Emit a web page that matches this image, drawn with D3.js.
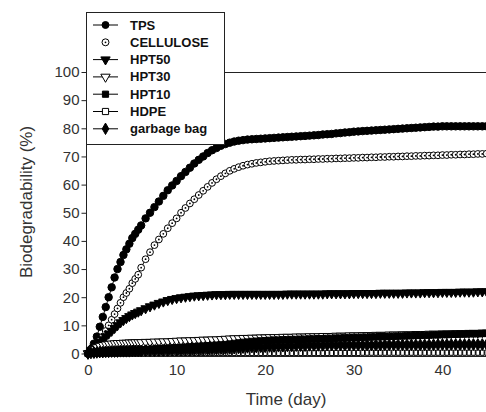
<!DOCTYPE html>
<html><head><meta charset="utf-8">
<script src="https://cdn.jsdelivr.net/npm/d3@7"></script>
<style>
html,body{margin:0;padding:0;background:#fff;}
svg{display:block;}
</style></head>
<body>
<svg id="chart" width="486" height="412"></svg>
<script>
// ---- data ----
const days = [0,0.33,0.67,1,1.33,1.67,2,2.33,2.67,3,3.33,3.67,4,4.33,4.67,5,5.33,5.67,
6,6.5,7,7.5,8,8.5,9,9.5,10,10.5,
11,11.5,12,12.5,13,13.5,14,14.5,15,15.5,
16,16.5,17,17.5,18,18.5,19,19.5,20,20.5,
21,21.5,22,22.5,23,23.5,24,24.5,25,25.5,
26,26.5,27,27.5,28,28.5,29,29.5,30,30.5,
31,31.5,32,32.5,33,33.5,34,34.5,35,35.5,
36,36.5,37,37.5,38,38.5,39,39.5,40,40.5,
41,41.5,42,42.5,43,43.5,44,44.5,45];

const tps = [0,1.5,3.5,6,9.5,13,16.5,20,23.5,27,30,32.5,35,37,39,41,42.5,44,
45.5,48,50,52,54,56,58,59.7,61.3,63,
64.5,66,67.5,68.8,70,71.2,72.2,73,73.8,74.4,
74.9,75.3,75.6,75.8,76,76.1,76.2,76.3,76.4,76.5,
76.6,76.7,76.8,76.9,77,77.1,77.2,77.3,77.4,77.5,
77.6,77.8,77.9,78,78.2,78.3,78.5,78.6,78.8,78.9,
79,79.1,79.2,79.3,79.4,79.5,79.6,79.7,79.8,79.9,
80,80.1,80.2,80.3,80.4,80.5,80.6,80.6,80.7,80.7,
80.7,80.7,80.7,80.7,80.7,80.7,80.7,80.7,80.7];

const cellulose = [0,0.5,1.5,3,4.5,6,8,10,12,14,16,18,20,21.5,23,25,26.5,28,
30.5,33.5,36,38.5,40.5,42.5,44.5,46.3,48,50,
51.7,53.3,54.8,56.3,57.8,59.2,60.6,61.9,63,64,
64.9,65.6,66.2,66.7,67.1,67.4,67.7,67.9,68.1,68.3,
68.4,68.5,68.6,68.7,68.8,68.8,68.9,68.9,69,69,
69.1,69.1,69.2,69.2,69.3,69.3,69.4,69.4,69.5,69.5,
69.6,69.6,69.7,69.7,69.8,69.8,69.9,69.9,70,70,
70.1,70.1,70.2,70.2,70.3,70.3,70.4,70.4,70.5,70.5,
70.6,70.6,70.7,70.7,70.8,70.8,70.9,70.9,71];

const hpt50 = [0,1,2,3,4,5,6,7,8,9,10,11,11.8,12.5,13.2,13.8,14.3,14.8,
15.3,16,16.7,17.3,17.9,18.4,18.9,19.3,19.6,19.9,
20.1,20.3,20.5,20.6,20.7,20.8,20.9,21,21,21,
21.1,21.1,21.1,21.1,21.1,21.1,21.1,21.1,21.1,21.1,
21.1,21.1,21.1,21.2,21.2,21.2,21.2,21.2,21.2,21.2,
21.2,21.2,21.3,21.3,21.3,21.3,21.3,21.3,21.4,21.4,
21.4,21.4,21.4,21.4,21.5,21.5,21.5,21.5,21.5,21.5,
21.6,21.6,21.6,21.6,21.7,21.7,21.7,21.7,21.8,21.8,
21.8,21.8,21.9,21.9,21.9,21.9,22,22,22];

const hpt30 = [0,0.8,1.5,2.2,2.7,3,3.2,3.4,3.5,3.6,3.7,3.7,3.8,3.8,3.9,3.9,4,4,
4,4.1,4.1,4.2,4.2,4.3,4.3,4.4,4.5,4.6,
4.6,4.7,4.7,4.8,4.9,4.9,5,5,5.1,5.2,
5.3,5.4,5.4,5.5,5.5,5.6,5.6,5.7,5.7,5.8,
5.8,5.8,5.9,5.9,5.9,6,6,6,6.1,6.1,
6.1,6.2,6.2,6.2,6.3,6.3,6.3,6.4,6.4,6.4,
6.5,6.5,6.5,6.6,6.6,6.6,6.7,6.7,6.7,6.8,
6.8,6.8,6.9,6.9,6.9,7,7,7,7.1,7.1,
7.1,7.2,7.2,7.2,7.3,7.3,7.3,7.4,7.4];

const hpt10 = [0,0.3,0.5,0.6,0.7,0.8,0.9,0.9,1,1,1,1.1,1.1,1.1,1.2,1.2,1.2,1.2,
1.3,1.4,1.5,1.6,1.7,1.8,1.9,2,2.1,2.2,
2.3,2.4,2.5,2.6,2.7,2.8,2.9,3,3.1,3.2,
3.4,3.6,3.8,4,4.1,4.3,4.4,4.5,4.6,4.7,
4.8,4.8,4.9,4.9,5,5,5.1,5.1,5.2,5.2,
5.3,5.3,5.4,5.4,5.5,5.5,5.6,5.6,5.7,5.7,
5.8,5.8,5.9,5.9,6,6,6.1,6.1,6.2,6.2,
6.3,6.3,6.4,6.4,6.5,6.5,6.6,6.6,6.7,6.7,
6.8,6.8,6.9,6.9,7,7,7,7.1,7.1];

const hdpe = [0,0.1,0.1,0.2,0.2,0.2,0.2,0.2,0.2,0.2,0.2,0.2,0.2,0.2,0.2,0.2,0.2,0.2,
0.2,0.2,0.2,0.2,0.2,0.2,0.2,0.2,0.2,0.2,
0.2,0.2,0.2,0.2,0.2,0.2,0.2,0.2,0.2,0.2,
0.2,0.2,0.2,0.2,0.2,0.2,0.2,0.2,0.2,0.2,
0.2,0.2,0.2,0.2,0.2,0.2,0.2,0.2,0.2,0.2,
0.2,0.2,0.2,0.2,0.2,0.2,0.2,0.2,0.2,0.2,
0.3,0.3,0.3,0.3,0.3,0.3,0.3,0.3,0.3,0.3,
0.3,0.3,0.3,0.3,0.3,0.3,0.3,0.3,0.3,0.3,
0.3,0.3,0.3,0.3,0.3,0.3,0.3,0.3,0.3];

const garbageBag = [0,0.2,0.3,0.4,0.5,0.5,0.6,0.6,0.7,0.7,0.7,0.8,0.8,0.8,0.8,0.9,0.9,0.9,
0.9,1,1,1,1.1,1.1,1.1,1.2,1.2,1.2,
1.3,1.3,1.4,1.4,1.5,1.5,1.6,1.6,1.7,1.7,
1.8,1.9,2,2.1,2.2,2.3,2.3,2.4,2.4,2.5,
2.5,2.6,2.6,2.7,2.7,2.8,2.8,2.8,2.9,2.9,
2.9,2.9,3,3,3,3,3,3,3,3,
3,3,3,3,3,3.1,3.1,3.1,3.1,3.1,
3.1,3.1,3.1,3.1,3.1,3.1,3.1,3.2,3.2,3.2,
3.2,3.2,3.2,3.2,3.2,3.2,3.2,3.2,3.2];

const seriesNames = ["TPS","CELLULOSE","HPT50","HPT30","HPT10","HDPE","garbage bag"];
const seriesValues = [tps, cellulose, hpt50, hpt30, hpt10, hdpe, garbageBag];
const xTicks = [0,10,20,30,40];
const yTicks = [0,10,20,30,40,50,60,70,80,90,100];
const xTitle = "Time (day)";
const yTitle = "Biodegradability (%)";

// ---- styles ----
const markerStyle = {
  "TPS":        {type: d3.symbolCircle,   size: 44, fill: "#000", rot: 0,   sx: 1,   dot: false, legendLine: true},
  "CELLULOSE":  {type: d3.symbolCircle,   size: 36, fill: "#fff", rot: 0,   sx: 1,   dot: true,  legendLine: false},
  "HPT50":      {type: d3.symbolTriangle, size: 38, fill: "#000", rot: 180, sx: 1,   dot: false, legendLine: true},
  "HPT30":      {type: d3.symbolTriangle, size: 34, fill: "#fff", rot: 180, sx: 1,   dot: false, legendLine: true},
  "HPT10":      {type: d3.symbolSquare,   size: 38, fill: "#000", rot: 0,   sx: 1,   dot: false, legendLine: true},
  "HDPE":       {type: d3.symbolSquare,   size: 28, fill: "#fff", rot: 0,   sx: 0.7, dot: false, legendLine: true},
  "garbage bag":{type: d3.symbolDiamond,  size: 40, fill: "#000", rot: 0,   sx: 1,   dot: false, legendLine: true}
};

const svg = d3.select("#chart");
const x = d3.scaleLinear().domain([0,45]).range([88, 486.7]);
const y = d3.scaleLinear().domain([0,100]).range([353.5, 72]);
const axisX = 86.5;
const axisBottom = 356.5;

const tickFont = "'Liberation Sans', Arial, sans-serif";

// top frame line
svg.append("line").attr("x1", axisX).attr("x2", 486).attr("y1", y(100)+0.5).attr("y2", y(100)+0.5)
  .attr("stroke", "#222").attr("stroke-width", 1);

// y axis
const yAxis = d3.axisLeft(y).tickValues(yTicks).tickSize(5).tickPadding(2).tickFormat(d3.format("d"));
const gy = svg.append("g").attr("transform", `translate(${axisX},0)`).call(yAxis);
gy.select(".domain").remove();
gy.selectAll(".tick line").attr("stroke", "#222");
gy.selectAll(".tick text").attr("font-family", tickFont).attr("font-size", 15).attr("fill", "#333");
svg.append("line").attr("x1", axisX).attr("x2", axisX).attr("y1", 12).attr("y2", axisBottom)
  .attr("stroke", "#222");

// x axis
const xAxis = d3.axisBottom(x).tickValues(xTicks).tickSize(0).tickPadding(8).tickFormat(d3.format("d"));
const gx = svg.append("g").attr("transform", `translate(0,${axisBottom})`).call(xAxis);
gx.select(".domain").attr("stroke", "#222").attr("d", `M${axisX},0H486`);
gx.selectAll(".tick text").attr("font-family", tickFont).attr("font-size", 15).attr("fill", "#333");

// titles
svg.append("text").attr("x", 286).attr("y", 405).attr("text-anchor", "middle")
  .attr("font-family", tickFont).attr("font-size", 17).attr("fill", "#333").text(xTitle);
svg.append("text").attr("transform", "translate(32,202) rotate(-90)").attr("text-anchor", "middle")
  .attr("font-family", tickFont).attr("font-size", 17).attr("fill", "#333").text(yTitle);

// series
const line = d3.line().x((d,i) => x(days[i])).y(d => y(d));
const plot = svg.append("g");
seriesNames.forEach((name, si) => {
  const st = markerStyle[name];
  const vals = seriesValues[si];
  plot.append("path").attr("d", line(vals)).attr("fill", "none").attr("stroke", "#000").attr("stroke-width", 1);
  const sym = d3.symbol().type(st.type).size(st.size);
  const g = plot.append("g");
  g.selectAll("path").data(vals).join("path")
    .attr("d", sym)
    .attr("transform", (d,i) => `translate(${x(days[i])},${y(d)}) rotate(${st.rot}) scale(${st.sx},1)`)
    .attr("fill", st.fill).attr("stroke", "#000").attr("stroke-width", 1)
    .attr("vector-effect", "non-scaling-stroke");
  if (st.dot) {
    g.selectAll("circle").data(vals).join("circle")
      .attr("cx", (d,i) => x(days[i])).attr("cy", d => y(d)).attr("r", 0.9).attr("fill", "#000");
  }
});

// legend
const lg = svg.append("g");
lg.append("rect").attr("x", axisX).attr("y", 12.5).attr("width", 138).attr("height", 132)
  .attr("fill", "#fff").attr("stroke", "#222").attr("stroke-width", 1);
seriesNames.forEach((name, i) => {
  const st = markerStyle[name];
  const ly = 25 + i * 17.3;
  if (st.legendLine) {
    lg.append("line").attr("x1", 93).attr("x2", 118).attr("y1", ly).attr("y2", ly)
      .attr("stroke", "#000").attr("stroke-width", 1);
  }
  lg.append("path").attr("d", d3.symbol().type(st.type).size(38))
    .attr("transform", `translate(105.5,${ly}) rotate(${st.rot})`)
    .attr("fill", st.fill).attr("stroke", "#000").attr("stroke-width", 1);
  if (st.dot) lg.append("circle").attr("cx", 105.5).attr("cy", ly).attr("r", 0.9).attr("fill", "#000");
  lg.append("text").attr("x", 130).attr("y", ly + 4.5)
    .attr("font-family", tickFont).attr("font-size", 13).attr("font-weight", "bold")
    .attr("fill", "#111").text(name);
});
</script>
</body></html>
